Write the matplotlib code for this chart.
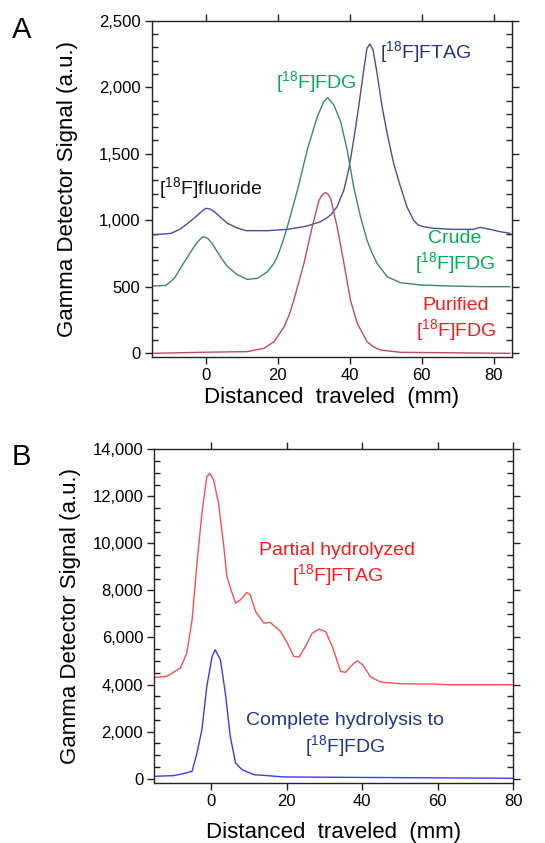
import matplotlib
matplotlib.use("Agg")
import matplotlib.pyplot as plt
from matplotlib.ticker import MultipleLocator, FuncFormatter
import numpy as np

plt.rcParams['font.family'] = ['Liberation Sans', 'DejaVu Sans']
plt.rcParams['mathtext.fontset'] = 'custom'
plt.rcParams['mathtext.rm'] = 'Liberation Sans'
plt.rcParams['mathtext.it'] = 'Liberation Sans'
plt.rcParams['mathtext.bf'] = 'Liberation Sans'

# ---------------- Panel A data ----------------
ftag_x = [-14.7, -9.6, -7, -5, -3.5, -2.2, -1, 0, 1.2, 2.4, 4, 6.1, 8.5, 11.2, 17.2, 22.7,
          28.2, 31.9, 33.5, 34.7, 36.5, 38.4, 39.8, 41.1, 42.5, 43.9, 44.8, 45.6, 46.5,
          47.6, 49, 50.4, 52.2, 54.1, 55.9, 57.7, 59, 60.5, 63.3, 68.8, 74.4, 76.2, 79,
          81.7, 84.5]
ftag_y = [890, 902, 935, 977, 1010, 1040, 1070, 1090, 1085, 1065, 1025, 977, 945, 922,
          922, 932, 957, 990, 1015, 1040, 1102, 1228, 1390, 1604, 1854, 2130, 2293, 2325,
          2280, 2105, 1854, 1654, 1428, 1253, 1102, 1002, 965, 952, 940, 932, 932, 947,
          932, 915, 902]

crude_x = [-14.7, -11, -8.7, -7, -5, -3.5, -2.2, -0.8, 0.6, 1.8, 2.9, 4.5, 6.1, 8.9, 11.6,
           14.4, 17.2, 18.8, 19.9, 21.3, 22.7, 25.5, 28.2, 31, 32.8, 33.9, 35.6, 37.5,
           39.3, 41.1, 43, 44.8, 46.2, 47.6, 50.4, 54.1, 59.6, 67.9, 77.1, 84.5]
crude_y = [506, 511, 564, 640, 727, 790, 839, 877, 864, 825, 777, 710, 651, 589, 556,
           564, 614, 670, 727, 830, 952, 1228, 1528, 1779, 1892, 1922, 1867, 1741,
           1528, 1253, 1027, 852, 755, 677, 576, 531, 514, 506, 501, 501]

pure_x = [-14.7, -1.3, 11.6, 16.2, 19, 21.8, 23.2, 24.5, 27.3, 29.6, 31.5, 32.5, 33.3,
          34, 34.7, 36.5, 38.4, 40.2, 42.1, 44.8, 46.5, 48.5, 54.1, 84.5]
pure_y = [0, 8, 13, 38, 88, 200, 290, 401, 677, 952, 1153, 1195, 1208, 1195, 1165, 952,
          677, 401, 226, 88, 50, 25, 8, 0]

# ---------------- Panel B data ----------------
partial_x = [-14.8, -11.7, -8.1, -6.4, -5, -3.7, -2.4, -1.1, -0.35, 0.7, 2, 3.4, 4.2,
             5.6, 6.5, 7.8, 9.5, 10.4, 11.8, 14, 15.7, 18.4, 20.2, 21.9, 23.3, 25,
             26.8, 28.6, 30.3, 32.1, 34.3, 35.6, 37.4, 38.7, 40.1, 42.3, 44.9, 50.2,
             59.1, 62.6, 80]
partial_y = [4303, 4346, 4700, 5337, 6752, 9159, 11282, 12840, 12981, 12698, 11707,
             9867, 8593, 7885, 7460, 7602, 7913, 7814, 7106, 6611, 6639, 6257, 5761,
             5195, 5167, 5620, 6186, 6356, 6257, 5620, 4558, 4516, 4841, 5011, 4841,
             4318, 4105, 4034, 4020, 3992, 3992]

complete_x = [-14.8, -9.9, -7.3, -5, -3.7, -2.4, -1.1, 0.3, 1.1, 2.5, 3.8, 5.1, 6.5,
              8.2, 11.3, 19.3, 32.5, 80]
complete_y = [99, 127, 212, 311, 1090, 2081, 3921, 5195, 5478, 5054, 3638, 1798, 665,
              382, 170, 71, 57, 14]

SUP = r'[$^{\mathregular{18}}$F]'

fig = plt.figure(figsize=(5.45, 8.43), dpi=100)
axA = fig.add_axes([0.2783, 0.5769, 0.6606, 0.3985])
axB = fig.add_axes([0.2831, 0.0708, 0.6587, 0.3962])

comma = FuncFormatter(lambda v, p: f"{int(round(v)):,}")


def style(ax, xpad):
    for s in ax.spines.values():
        s.set_linewidth(1.0)
        s.set_color('#222222')
    ax.tick_params(which='major', direction='out', length=5, width=1, color='#222222',
                   top=True, right=True, labelsize=12, pad=3)
    ax.tick_params(which='minor', direction='in', length=4, width=1, color='#222222',
                   left=True, right=True, top=False, bottom=False)
    ax.yaxis.set_major_formatter(comma)
    ax.set_ylabel('Gamma Detector Signal (a.u.)', fontsize=16)
    ax.set_xlabel('Distanced  traveled  (mm)', fontsize=16, labelpad=xpad)
    ax.yaxis.set_label_coords(-0.205, 0.5)


# Panel A
axA.plot(ftag_x, ftag_y, color='#4b4b9e', lw=1.0)
axA.plot(crude_x, crude_y, color='#3b8a62', lw=1.0)
axA.plot(pure_x, pure_y, color='#c24a5c', lw=1.0)
axA.set_xlim(-15, 85)
axA.set_ylim(-25, 2500)
axA.xaxis.set_major_locator(MultipleLocator(20))
axA.yaxis.set_major_locator(MultipleLocator(500))
axA.yaxis.set_minor_locator(MultipleLocator(100))
style(axA, 3)

axA.text(48.5, 2267, SUP + 'FTAG', color='#1f3580', fontsize=14, ha='left', va='center')
axA.text(30.6, 2042, SUP + 'FDG', color='#00b050', fontsize=14, ha='center', va='center')
axA.text(-13.0, 1240, SUP + 'fluoride', color='#111111', fontsize=14, ha='left', va='center')
axA.text(69.3, 755, 'Crude\n' + SUP + 'FDG', color='#00b050', fontsize=14,
         ha='center', va='center', linespacing=1.2)
axA.text(69.5, 250, 'Purified\n' + SUP + 'FDG', color='#ff1a1a', fontsize=14,
         ha='center', va='center', linespacing=1.2)

# Panel B
axB.plot(partial_x, partial_y, color='#ff4d4d', lw=1.0)
axB.plot(complete_x, complete_y, color='#3a3aee', lw=1.0)
axB.set_xlim(-15, 80)
axB.set_ylim(-200, 14000)
axB.xaxis.set_major_locator(MultipleLocator(20))
axB.yaxis.set_major_locator(MultipleLocator(2000))
axB.yaxis.set_minor_locator(MultipleLocator(500))
style(axB, 9)

axB.text(33.4, 9080, 'Partial hydrolyzed\n' + SUP + 'FTAG', color='#ff1a1a', fontsize=14,
         ha='center', va='center', linespacing=1.2)
axB.text(35.4, 1820, 'Complete hydrolysis to\n' + SUP + 'FDG', color='#1f3590', fontsize=14,
         ha='center', va='center', linespacing=1.2)

fig.text(0.022, 0.964, 'A', fontsize=21, ha='left', va='center')
fig.text(0.022, 0.458, 'B', fontsize=21, ha='left', va='center')

fig.savefig('out.png', dpi=100)
